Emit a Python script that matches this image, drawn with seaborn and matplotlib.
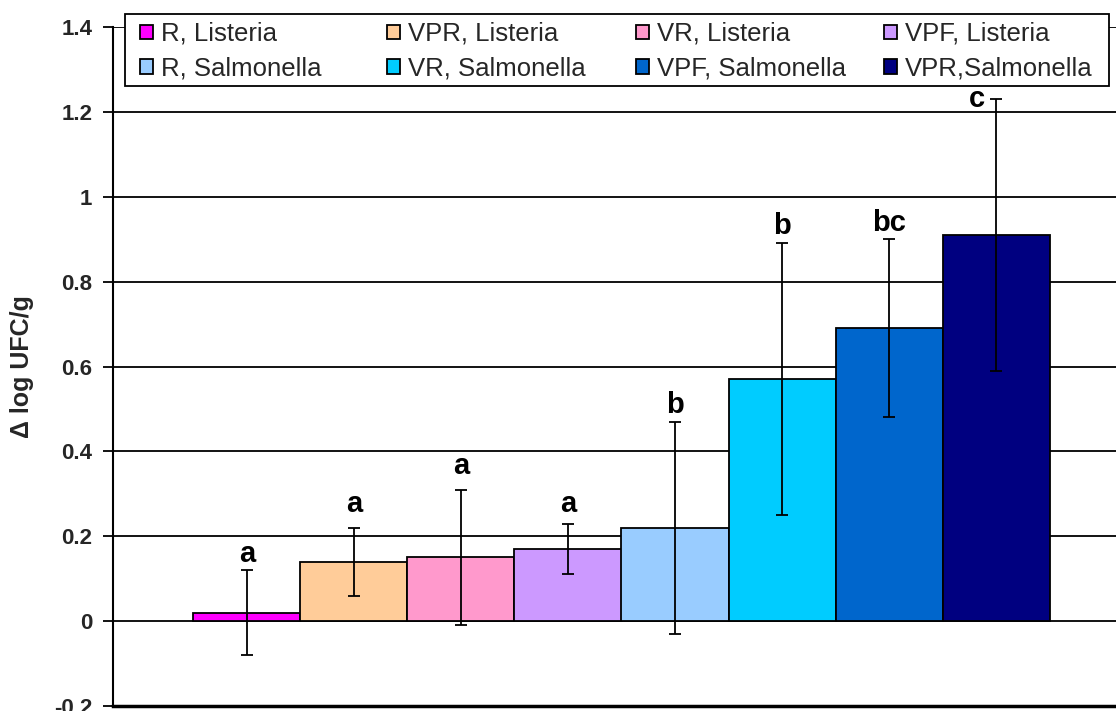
import numpy as np
import pandas as pd
import matplotlib
matplotlib.use("Agg")
import matplotlib.pyplot as plt
from matplotlib.patches import Rectangle
import seaborn as sns

# Treatment / organism groups, in bar order
categories = ["R, Listeria", "VPR, Listeria", "VR, Listeria", "VPF, Listeria",
              "R, Salmonella", "VR, Salmonella", "VPF, Salmonella", "VPR,Salmonella"]
delta_log = [0.02, 0.14, 0.15, 0.17, 0.22, 0.57, 0.69, 0.91]
std_err = [0.10, 0.08, 0.16, 0.06, 0.25, 0.32, 0.21, 0.32]
letters = ["a", "a", "a", "a", "b", "b", "bc", "c"]
y_ticks = [-0.2, 0, 0.2, 0.4, 0.6, 0.8, 1, 1.2, 1.4]
y_tick_labels = ["-0.2", "0", "0.2", "0.4", "0.6", "0.8", "1", "1.2", "1.4"]

bar_colors = ["#FF00FF", "#FFCC99", "#FF99CC", "#CC99FF",
              "#99CCFF", "#00CCFF", "#0066CC", "#000080"]
# letter offsets (points) relative to the top of each error bar
letter_offsets = [(0, 6), (0, 11), (0, 11), (0, 8), (0, 6), (0, 7), (0, 6), (-14, -6)]

sns.set_theme(style="white")
plt.rcParams["font.family"] = ["Liberation Sans", "DejaVu Sans"]

W, H = 1116, 711
df = pd.DataFrame({"group": categories, "value": delta_log})

fig = plt.figure(figsize=(W / 100, H / 100), dpi=100)
ax = fig.add_axes([113 / W, 5 / H, 1017 / W, 679 / H])

sns.barplot(data=df, x="group", y="value", hue="group", order=categories,
            hue_order=categories, palette=dict(zip(categories, bar_colors)),
            saturation=1, width=1.0, dodge=False, legend=False,
            edgecolor="black", linewidth=1.3, errorbar=None, ax=ax, zorder=3)

xpos = np.arange(len(categories))
tops = np.array(delta_log) + np.array(std_err)
ax.errorbar(xpos, delta_log, yerr=std_err, fmt="none", ecolor="black",
            elinewidth=1.3, capsize=4.5, capthick=1.3, zorder=4)

for x, top, lab, (dx, dy) in zip(xpos, tops, letters, letter_offsets):
    ax.annotate(lab, (x, top), xytext=(dx, dy), textcoords="offset points",
                ha="center", va="baseline", fontsize=21, fontweight="bold",
                color="black", zorder=5)

ax.set_xlim(-1.25, len(categories) - 1 + 1.25)
ax.set_ylim(-0.2, 1.4)
ax.set_yticks(y_ticks)
ax.set_yticklabels(y_tick_labels, fontsize=16, fontweight="bold")
ax.set_xticks([])
ax.set_xlabel("")
ax.set_ylabel("Δ log UFC/g", fontsize=18, fontweight="bold")
ax.yaxis.set_label_coords((34 - 113) / 1017, 0.5)

ax.yaxis.grid(True, color="black", linewidth=1.3, zorder=0)
ax.set_axisbelow(True)
ax.tick_params(axis="y", direction="out", length=7, width=1.3, color="black",
               pad=8, left=True)
for side in ["top", "right"]:
    ax.spines[side].set_visible(False)
ax.spines["left"].set_color("black")
ax.spines["left"].set_linewidth(1.5)
ax.spines["bottom"].set_color("black")
ax.spines["bottom"].set_linewidth(2.5)

# legend: white framed box with four evenly spaced columns, two rows each
fig.add_artist(Rectangle((125 / W, 1 - 86 / H), 984 / W, 72 / H,
                         transform=fig.transFigure, facecolor="white",
                         edgecolor="black", linewidth=1.3, zorder=4))
handles = list(ax.patches[:len(categories)])
col_x = [140, 387, 636, 884]
for c, x0 in enumerate(col_x):
    idx = [c, c + 4]
    leg = fig.legend([handles[i] for i in idx], [categories[i] for i in idx],
                     loc="upper left", bbox_to_anchor=(x0 / W, 1 - 22 / H),
                     bbox_transform=fig.transFigure, frameon=False,
                     borderpad=0, borderaxespad=0, fontsize=18.5,
                     handlelength=0.5, handleheight=0.5, handletextpad=0.3,
                     labelspacing=0.42)
    leg.set_zorder(5)

fig.savefig("out.png", dpi=100)
